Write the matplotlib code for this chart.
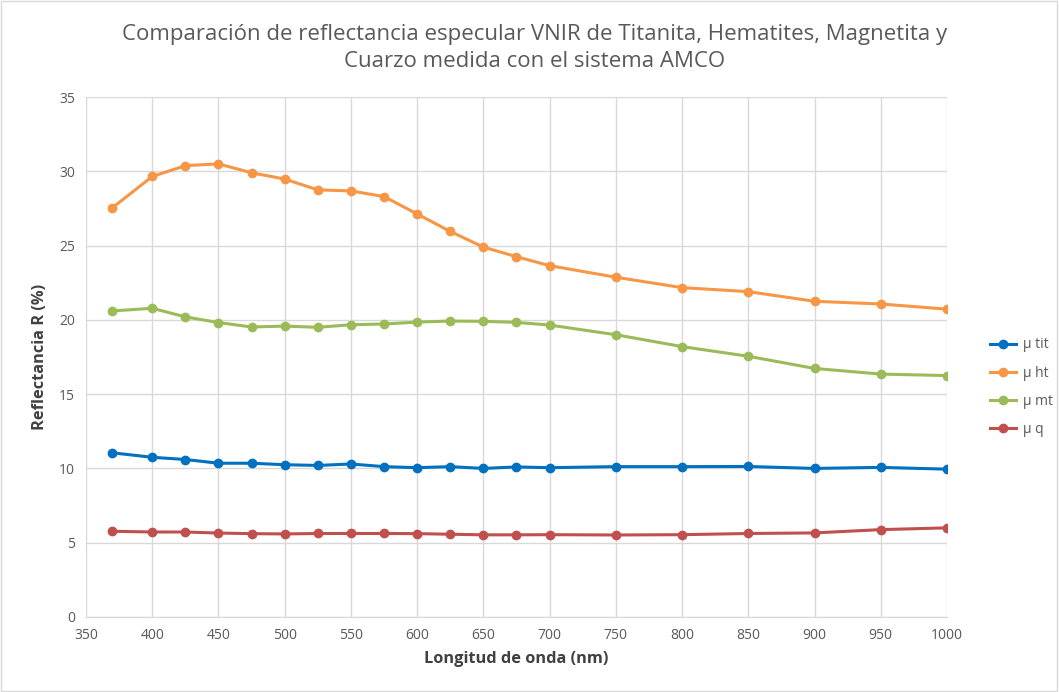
import matplotlib.pyplot as plt
from matplotlib.patches import Rectangle

# longitudes de onda (nm)
wl = [370, 400, 425, 450, 475, 500, 525, 550, 575, 600, 625, 650, 675, 700,
      750, 800, 850, 900, 950, 1000]

mu_tit = [11.05, 10.75, 10.6, 10.35, 10.35, 10.25, 10.2, 10.3, 10.12, 10.05,
          10.12, 10.0, 10.1, 10.05, 10.12, 10.12, 10.13, 10.0, 10.07, 9.95]
mu_ht = [27.55, 29.65, 30.38, 30.5, 29.9, 29.48, 28.75, 28.68, 28.3, 27.13,
         25.95, 24.9, 24.25, 23.65, 22.87, 22.17, 21.9, 21.25, 21.07, 20.72]
mu_mt = [20.6, 20.78, 20.2, 19.82, 19.52, 19.58, 19.5, 19.67, 19.72, 19.85,
         19.92, 19.9, 19.83, 19.65, 19.0, 18.2, 17.55, 16.73, 16.35, 16.25]
mu_q = [5.77, 5.72, 5.72, 5.65, 5.61, 5.59, 5.62, 5.62, 5.62, 5.61,
        5.57, 5.53, 5.53, 5.54, 5.52, 5.54, 5.62, 5.66, 5.88, 6.0]

series = [("µ tit", mu_tit, "#0070C0"),
          ("µ ht", mu_ht, "#F79646"),
          ("µ mt", mu_mt, "#9BBB59"),
          ("µ q", mu_q, "#C0504D")]

plt.rcParams['font.family'] = ['Open Sans', 'DejaVu Sans']

fig = plt.figure(figsize=(10.59, 6.92), dpi=100)
ax = fig.add_axes([0.0812, 0.1084, 0.8130, 0.7514])

for name, vals, col in series:
    ax.plot(wl, vals, color=col, lw=2.2, marker='o', ms=6, label=name)

ax.set_xlim(350, 1000)
ax.set_ylim(0, 35)
ax.set_xticks(range(350, 1001, 50))
ax.set_yticks(range(0, 36, 5))
ax.grid(True, color='#d9d9d9', lw=1)
ax.set_axisbelow(True)
for s in ['top', 'right', 'left']:
    ax.spines[s].set_visible(False)
ax.spines['bottom'].set_color('#d9d9d9')
ax.tick_params(length=0, labelsize=10, colors='#595959', pad=8)

ax.set_xlabel('Longitud de onda (nm)', fontsize=11.8, fontweight='bold',
              color='#404040', labelpad=6)
ax.set_ylabel('Reflectancia R (%)', fontsize=11.8, fontweight='bold',
              color='#404040', labelpad=8)

fig.suptitle('Comparación de reflectancia especular VNIR de Titanita, Hematites, Magnetita y\n'
             'Cuarzo medida con el sistema AMCO',
             x=0.505, y=0.965, fontsize=16, color='#595959', linespacing=1.35)

leg = ax.legend(loc='center left', bbox_to_anchor=(1.035, 0.442), frameon=False,
                fontsize=10, labelcolor='#595959', handlelength=1.9,
                handletextpad=0.5, labelspacing=0.95)

fig.patches.append(Rectangle((0.001, 0.001), 0.997, 0.997, transform=fig.transFigure,
                             fill=False, edgecolor='#d9d9d9', lw=1))

fig.savefig('out.png', dpi=100)
